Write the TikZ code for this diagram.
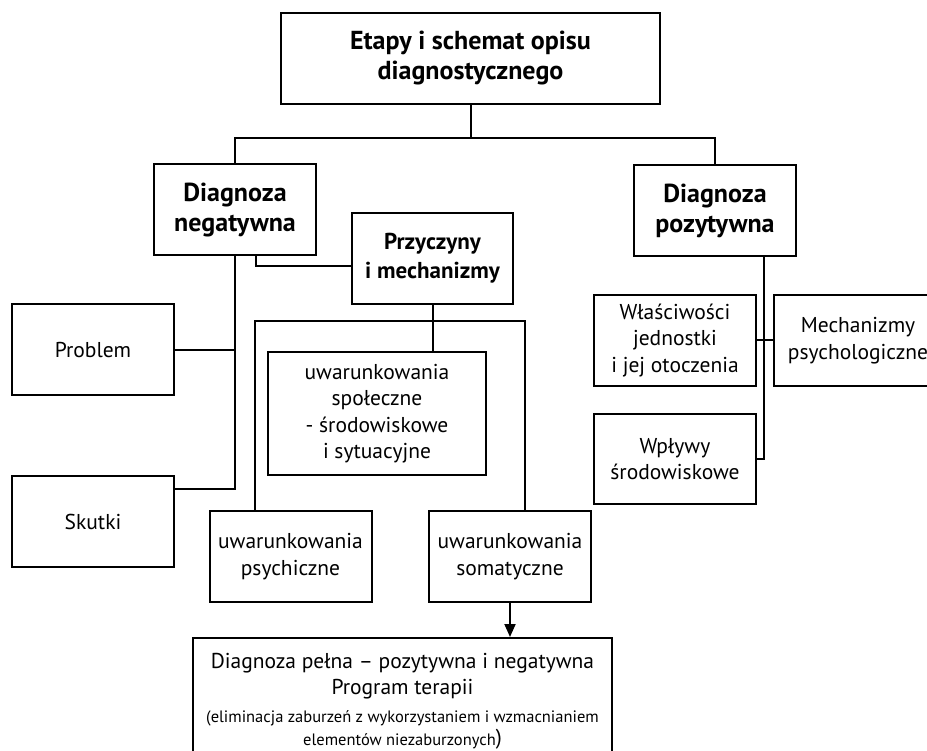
\documentclass[tikz,border=0pt]{standalone}
\usepackage{fontspec}
\setmainfont{PT Sans}
\usetikzlibrary{arrows.meta}

\tikzset{
  box/.style={draw, line width=2pt, align=center, minimum width=162pt, minimum height=91pt,
    inner sep=2pt, font=\fontsize{21.5}{26.5}\selectfont},
  headbox/.style={box, font=\bfseries\fontsize{26}{30}\selectfont},
  smallhead/.style={box, font=\bfseries\fontsize{23}{29}\selectfont},
}

\begin{document}
\begin{tikzpicture}[x=1pt, y=-1pt, line width=2pt]

      \clip (0,0) rectangle (927,751);

      \begin{scope}[every node/.style={box}]
        \node[headbox, minimum width=379pt] (1)  at (470.5,58.5) {Etapy i schemat opisu\\diagnostycznego};
        \node[headbox] (2)  at (235,210)   {Diagnoza\\negatywna};
        \node[headbox] (3)  at (715,210.5) {Diagnoza\\pozytywna};
        \node (4)  at (93,350)    {Problem};
        \node (5)  at (93,521.5)  {Skutki};
        \node[smallhead, minimum width=161pt] (6)  at (432.5,258.5) {Przyczyny\\i mechanizmy};
        \node[minimum width=218pt, minimum height=123pt] (7)  at (377,413.5) {uwarunkowania\\społeczne\\- środowiskowe\\i sytuacyjne};
        \node (8)  at (290.5,556.5) {uwarunkowania\\psychiczne};
        \node (9)  at (510,556.5)   {uwarunkowania\\somatyczne};
        \node[anchor=north, minimum width=419pt, minimum height=0pt, inner ysep=15pt, text depth=40pt] (10) at (402.5,637)
          {Diagnoza pełna – pozytywna i negatywna\\Program terapii\\[1pt]
           {\fontsize{16.5}{24}\selectfont (eliminacja zaburzeń z wykorzystaniem i wzmacnianiem}\\[-3pt]
           {\fontsize{16.5}{24}\selectfont elementów niezaburzonych}\raisebox{1pt}{)}};
        \node (11) at (675,340.5) {Właściwości\\jednostki\\i jej otoczenia};
        \node[minimum width=168pt] (12) at (858,340.5) {Mechanizmy\\psychologiczne};
        \node[minimum height=90pt] (13) at (675,459) {Wpływy\\środowiskowe};
      \end{scope}

      \coordinate (j1) at (470.5,138);
      \coordinate (j2) at (235,489);
      \coordinate (j3) at (255,321);
      \coordinate (j4) at (525,321);

      \draw (1) -- (j1) -| (2);
      \draw (j1) -| (3);
      \draw (2) -- (j2) -- (j2 -| 5.east);
      \draw (4) -- (4 -| j2);
      \draw ([xshift=21pt]2.south) |- ([yshift=-7.5pt]6.west);
      \draw (6) -- (6 |- 7.north);
      \draw (j3 |- 8.north) -- (j3) -- (j4) -- (j4 |- 9.north);
      \draw[-{Triangle[width=11pt,length=13pt]}] (9) -- (9 |- 10.north);
      \draw ([xshift=49pt]3.south) |- (13);
      \draw (11) -- (12);

    \end{tikzpicture}
\end{document}
